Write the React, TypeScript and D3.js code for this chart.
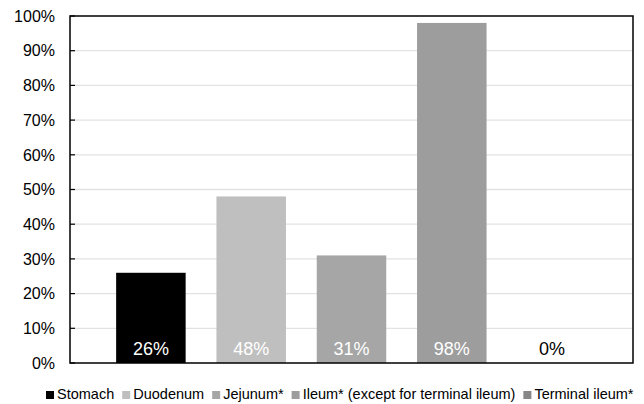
import React, { useRef, useEffect } from "react";
import * as d3 from "d3";

// one category, five series (share of cases by location)
const seriesNames = [
  "Stomach",
  "Duodenum",
  "Jejunum*",
  "Ileum* (except for terminal ileum)",
  "Terminal ileum*",
];
const seriesValues = [26, 48, 31, 98, 0];
const seriesColors = ["#000000", "#bfbfbf", "#a6a6a6", "#9d9d9d", "#878787"];
const labelColors = ["#ffffff", "#ffffff", "#ffffff", "#ffffff", "#000000"];
const yTicks = [0, 10, 20, 30, 40, 50, 60, 70, 80, 90, 100];

const FONT = "'Liberation Sans', Arial, sans-serif";

const App: React.FC = () => {
  const dimensions = { width: 644, height: 404 };
  const plot = { left: 70, right: 633, top: 16, bottom: 363 };

  const svg = useRef<SVGSVGElement>(null);
  const graphRef = useRef<SVGGElement>(null);
  const legendRef = useRef<SVGGElement>(null);

  const x = d3
    .scaleBand<string>()
    .domain(seriesNames)
    .range([plot.left, plot.right])
    .paddingInner(0.307)
    .paddingOuter(0.46);

  const y = d3.scaleLinear().domain([0, 100]).range([plot.bottom, plot.top]);

  useEffect(() => {
    document.body.style.margin = "0";
    const g = d3.select(graphRef.current);
    g.selectAll("*").remove();

    // gridlines
    g.append("g")
      .selectAll("line")
      .data(yTicks.filter(t => t > 0 && t < 100))
      .enter()
      .append("line")
      .attr("x1", plot.left)
      .attr("x2", plot.right)
      .attr("y1", d => y(d))
      .attr("y2", d => y(d))
      .attr("stroke", "#e2e2e2")
      .attr("stroke-width", 1.3);

    // bars
    g.append("g")
      .selectAll("rect")
      .data(seriesValues)
      .enter()
      .append("rect")
      .attr("x", (d, i) => x(seriesNames[i])!)
      .attr("width", x.bandwidth())
      .attr("y", d => y(d))
      .attr("height", d => y(0) - y(d))
      .attr("fill", (d, i) => seriesColors[i]);

    // inner ticks on the y axis
    g.append("g")
      .selectAll("line")
      .data(yTicks)
      .enter()
      .append("line")
      .attr("x1", plot.left)
      .attr("x2", plot.left + 5)
      .attr("y1", d => y(d))
      .attr("y2", d => y(d))
      .attr("stroke", "#000")
      .attr("stroke-width", 1.2);

    // frame
    g.append("rect")
      .attr("x", plot.left)
      .attr("y", plot.top)
      .attr("width", plot.right - plot.left)
      .attr("height", plot.bottom - plot.top)
      .attr("fill", "none")
      .attr("stroke", "#000")
      .attr("stroke-width", 1.5);

    // y tick labels
    g.append("g")
      .selectAll("text")
      .data(yTicks)
      .enter()
      .append("text")
      .attr("x", plot.left - 15)
      .attr("y", d => y(d))
      .attr("dy", "0.36em")
      .attr("text-anchor", "end")
      .attr("font-family", FONT)
      .attr("font-size", 16)
      .attr("fill", "#000")
      .text(d => `${d}%`);

    // data labels
    g.append("g")
      .selectAll("text")
      .data(seriesValues)
      .enter()
      .append("text")
      .attr("x", (d, i) => x(seriesNames[i])! + x.bandwidth() / 2)
      .attr("y", y(0) - 8.5)
      .attr("text-anchor", "middle")
      .attr("font-family", FONT)
      .attr("font-size", 18)
      .attr("fill", (d, i) => labelColors[i])
      .text(d => `${d}%`);

    // legend, laid out left to right
    const lg = d3.select(legendRef.current);
    lg.selectAll("*").remove();
    let cx = 46;
    seriesNames.forEach((name, i) => {
      lg.append("rect")
        .attr("x", cx)
        .attr("y", 391)
        .attr("width", 8)
        .attr("height", 8)
        .attr("fill", seriesColors[i]);
      const t = lg
        .append("text")
        .attr("x", cx + 11)
        .attr("y", 399)
        .attr("font-family", FONT)
        .attr("font-size", 14.5)
        .attr("fill", "#000")
        .text(name);
      const w = (t.node() as SVGTextElement).getComputedTextLength();
      cx += 11 + w + 8;
    });
  }, []);

  return (
    <svg
      ref={svg}
      width={dimensions.width}
      height={dimensions.height}
      style={{ position: "absolute", left: 0, top: 0, background: "#fff" }}
    >
      <g ref={graphRef} />
      <g ref={legendRef} />
    </svg>
  );
};

export default App;
